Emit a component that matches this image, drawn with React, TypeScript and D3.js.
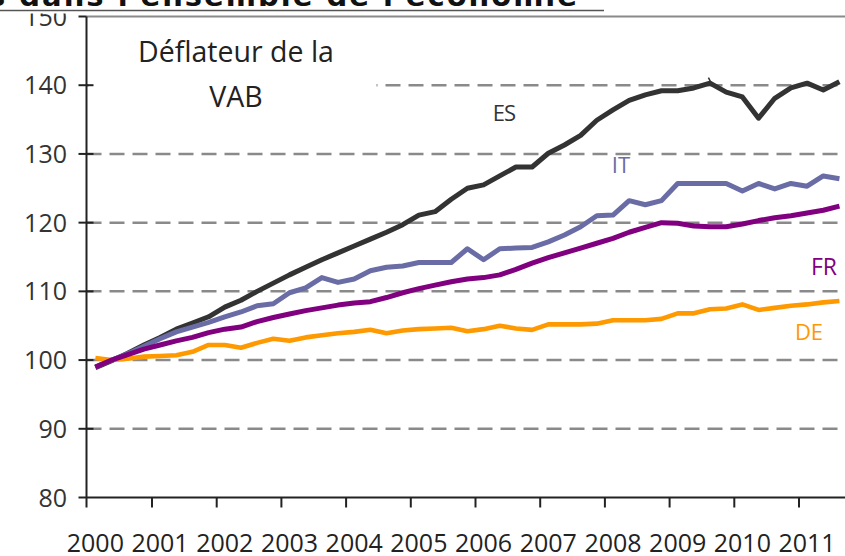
import React from "react";
import * as d3 from "d3";

const W = 845;
const H = 556;

const years = [2000, 2001, 2002, 2003, 2004, 2005, 2006, 2007, 2008, 2009, 2010, 2011];
const yTicks = [80, 90, 100, 110, 120, 130, 140, 150];
const gridValues = [90, 100, 110, 120, 130, 140];

// Quarterly values, 2000Q1 .. 2011Q3
const ES = [98.9, 99.9, 101.0, 102.2, 103.3, 104.5, 105.4, 106.3, 107.7, 108.7, 110.0, 111.2, 112.4, 113.5, 114.6, 115.6, 116.6, 117.6, 118.6, 119.7, 121.1, 121.6, 123.4, 125.0, 125.5, 126.8, 128.1, 128.1, 130.1, 131.3, 132.7, 134.9, 136.4, 137.8, 138.6, 139.2, 139.2, 139.6, 140.3, 139.0, 138.3, 135.2, 138.1, 139.6, 140.3, 139.3, 140.5];
const IT = [99.0, 100.0, 100.9, 102.0, 103.1, 104.1, 104.8, 105.5, 106.3, 107.0, 107.9, 108.2, 109.8, 110.5, 112.0, 111.3, 111.8, 113.0, 113.5, 113.7, 114.2, 114.2, 114.2, 116.2, 114.6, 116.2, 116.3, 116.4, 117.2, 118.2, 119.4, 121.0, 121.1, 123.2, 122.6, 123.2, 125.7, 125.7, 125.7, 125.7, 124.6, 125.7, 124.9, 125.7, 125.3, 126.8, 126.4];
const FR = [99.0, 100.0, 100.8, 101.6, 102.2, 102.8, 103.3, 104.0, 104.5, 104.8, 105.6, 106.2, 106.7, 107.2, 107.6, 108.0, 108.3, 108.5, 109.1, 109.8, 110.4, 110.9, 111.4, 111.8, 112.0, 112.4, 113.2, 114.1, 114.9, 115.6, 116.3, 117.0, 117.7, 118.6, 119.3, 120.0, 119.9, 119.5, 119.4, 119.4, 119.8, 120.3, 120.7, 121.0, 121.4, 121.8, 122.4];
const DE = [100.3, 100.0, 100.2, 100.5, 100.6, 100.7, 101.2, 102.2, 102.2, 101.8, 102.5, 103.1, 102.8, 103.3, 103.6, 103.9, 104.1, 104.4, 103.9, 104.3, 104.5, 104.6, 104.7, 104.2, 104.5, 105.0, 104.6, 104.4, 105.2, 105.2, 105.2, 105.3, 105.8, 105.8, 105.8, 106.0, 106.8, 106.8, 107.4, 107.5, 108.1, 107.3, 107.6, 107.9, 108.1, 108.4, 108.6];

const seriesNames = ["ES", "IT", "DE", "FR"];
const seriesColors: Record<string, string> = { ES: "#333333", IT: "#6a6ca6", FR: "#800080", DE: "#ff9900" };

const FONT = "'Open Sans', 'Liberation Sans', sans-serif";

export default function App() {
  const x = d3.scaleLinear().domain([2000, 2012]).range([87.3, 87.3 + 64.7 * 12]);
  const y = d3.scaleLinear().domain([80, 150]).range([497.5, 16.5]);
  const qDate = (i: number) => 2000 + (i + 0.5) / 4;
  const line = d3
    .line<number>()
    .x((_, i) => x(qDate(i)))
    .y((d) => y(d));
  const data: Record<string, number[]> = { ES, IT, FR, DE };
  const axisX = x(2000) - 0.8;
  const baseY = y(80);

  return (
    <svg width={W} height={H} style={{ position: "absolute", left: 0, top: 0, background: "#fff" }}>
      <rect x={0} y={0} width={W} height={H} fill="#fff" />
      {/* gridlines */}
      {gridValues.map((v) => (
        <line
          key={v}
          x1={axisX}
          x2={W}
          y1={y(v)}
          y2={y(v)}
          stroke="#8a8a8a"
          strokeWidth={2.5}
          strokeDasharray="15 8"
        />
      ))}
      {/* top border */}
      <line x1={axisX} x2={W} y1={y(150)} y2={y(150)} stroke="#8a8a8a" strokeWidth={2} />
      {/* annotation box */}
      <rect x={axisX + 2} y={y(150) + 2} width={288} height={100} fill="#fff" />
      <text x={236} y={62} fontFamily={FONT} fontSize={28.5} fill="#222" textAnchor="middle">
        Déflateur de la
      </text>
      <text x={236} y={107} fontFamily={FONT} fontSize={28.5} fill="#222" textAnchor="middle">
        VAB
      </text>
      {/* series */}
      {seriesNames.map((s) => (
        <path
          key={s}
          d={line(data[s]) || ""}
          fill="none"
          stroke={seriesColors[s]}
          strokeWidth={s === "DE" ? 4.6 : 5}
          strokeLinejoin="round"
          strokeLinecap="butt"
        />
      ))}
      {/* series labels */}
      <text x={504} y={121} fontFamily={FONT} fontSize={22} fill="#333" textAnchor="middle" letterSpacing={-1}>ES</text>
      <text x={621} y={173} fontFamily={FONT} fontSize={22} fill="#6a6ca6" textAnchor="middle">IT</text>
      <text x={824} y={275} fontFamily={FONT} fontSize={23} fill="#800080" textAnchor="middle">FR</text>
      <text x={809} y={340} fontFamily={FONT} fontSize={22} fill="#ff9900" textAnchor="middle">DE</text>
      {/* axes */}
      <line x1={axisX} x2={axisX} y1={y(150)} y2={baseY + 10} stroke="#222" strokeWidth={2} />
      <line x1={axisX} x2={W} y1={baseY} y2={baseY} stroke="#222" strokeWidth={2} />
      {yTicks.map((v) => (
        <g key={v}>
          <line x1={axisX - 8} x2={v === 80 || v === 150 ? axisX : axisX + 7} y1={y(v)} y2={y(v)} stroke="#222" strokeWidth={2} />
          <text x={67} y={y(v)} dy="0.36em" fontFamily={FONT} fontSize={25} fill="#333" textAnchor="end">
            {v}
          </text>
        </g>
      ))}
      {years.slice(1).map((yr) => (
        <line key={yr} x1={x(yr)} x2={x(yr)} y1={baseY} y2={baseY + 10} stroke="#222" strokeWidth={2} />
      ))}
      {years.map((yr) => (
        <text key={yr} x={x(yr + 0.125)} y={552} fontFamily={FONT} fontSize={25} fill="#222" textAnchor="middle">
          {yr}
        </text>
      ))}
      {/* small stray mark */}
      <line x1={x(2009.6)} y1={y(141.1)} x2={x(2009.65)} y2={y(140.2)} stroke="#333" strokeWidth={1.5} />
      {/* cropped document title band */}
      <rect x={0} y={0} width={W} height={13.5} fill="#fff" />
      <text x={-12} y={6} fontFamily="'DejaVu Sans', Verdana, sans-serif" fontWeight="bold" fontSize={29} fill="#111" letterSpacing={2}>
        s dans l'ensemble de l'économie
      </text>
      <line x1={0} x2={604} y1={10.5} y2={10.5} stroke="#555" strokeWidth={1.3} />
    </svg>
  );
}
